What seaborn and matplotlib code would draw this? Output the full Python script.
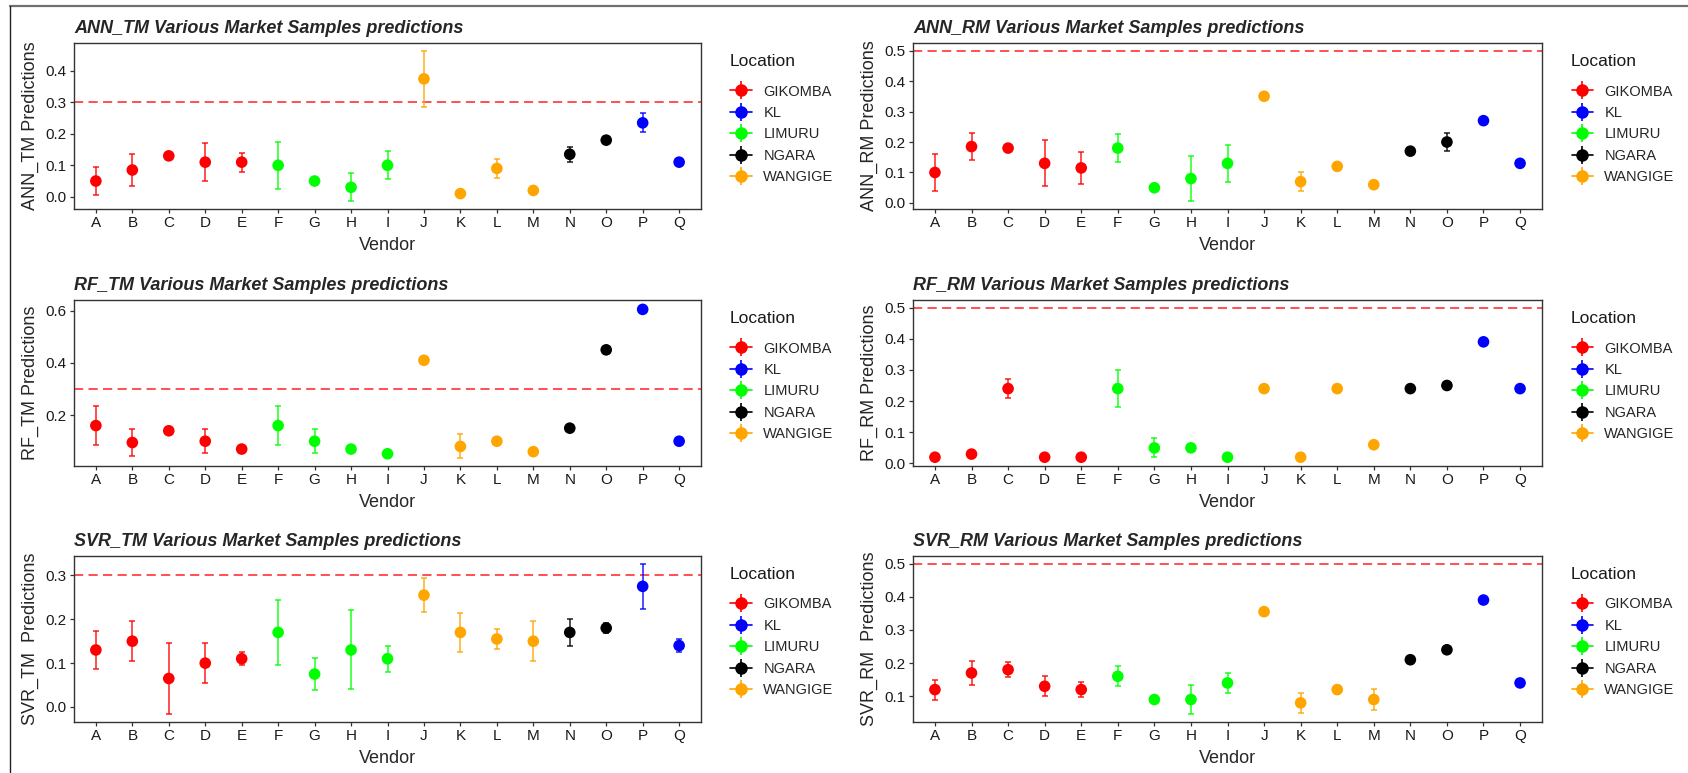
import matplotlib
matplotlib.use('Agg')
import matplotlib.pyplot as plt
from matplotlib.lines import Line2D
from matplotlib.ticker import MultipleLocator, FormatStrFormatter
import seaborn as sns
import numpy as np
import pandas as pd

vendors = list('ABCDEFGHIJKLMNOPQ')
locations = ['GIKOMBA'] * 5 + ['LIMURU'] * 4 + ['WANGIGE'] * 4 + ['NGARA'] * 2 + ['KL'] * 2
location_order = ['GIKOMBA', 'KL', 'LIMURU', 'NGARA', 'WANGIGE']
palette = {'GIKOMBA': '#FF0000', 'KL': '#0000FF', 'LIMURU': '#00FF00',
           'NGARA': '#000000', 'WANGIGE': '#FFA500'}

# mean prediction and half width of the error bar, per vendor A..Q
ann_tm_mean = [0.05, 0.085, 0.13, 0.11, 0.11, 0.10, 0.05, 0.03, 0.10, 0.375, 0.01, 0.09, 0.02, 0.135, 0.18, 0.235, 0.11]
ann_tm_err = [0.045, 0.052, 0.008, 0.06, 0.03, 0.075, 0.006, 0.045, 0.045, 0.09, 0.004, 0.03, 0.01, 0.024, 0.012, 0.03, 0.012]

ann_rm_mean = [0.10, 0.185, 0.18, 0.13, 0.115, 0.18, 0.05, 0.08, 0.13, 0.35, 0.07, 0.12, 0.06, 0.17, 0.20, 0.27, 0.13]
ann_rm_err = [0.06, 0.045, 0.008, 0.075, 0.053, 0.045, 0.006, 0.075, 0.06, 0.008, 0.03, 0.008, 0.008, 0.006, 0.03, 0.008, 0.006]

rf_tm_mean = [0.16, 0.095, 0.14, 0.10, 0.07, 0.16, 0.10, 0.07, 0.052, 0.41, 0.08, 0.10, 0.06, 0.15, 0.45, 0.605, 0.10]
rf_tm_err = [0.075, 0.052, 0.007, 0.045, 0.005, 0.075, 0.045, 0.005, 0.005, 0.008, 0.046, 0.006, 0.006, 0.006, 0.006, 0.007, 0.006]

rf_rm_mean = [0.02, 0.03, 0.24, 0.02, 0.02, 0.24, 0.05, 0.05, 0.02, 0.24, 0.02, 0.24, 0.06, 0.24, 0.25, 0.39, 0.24]
rf_rm_err = [0.004, 0.005, 0.03, 0.004, 0.004, 0.06, 0.03, 0.005, 0.004, 0.006, 0.004, 0.006, 0.006, 0.006, 0.006, 0.006, 0.005]

svr_tm_mean = [0.13, 0.15, 0.065, 0.10, 0.11, 0.17, 0.075, 0.13, 0.11, 0.255, 0.17, 0.155, 0.15, 0.17, 0.18, 0.275, 0.14]
svr_tm_err = [0.044, 0.045, 0.082, 0.045, 0.015, 0.075, 0.037, 0.09, 0.03, 0.038, 0.045, 0.023, 0.045, 0.03, 0.012, 0.052, 0.015]

svr_rm_mean = [0.12, 0.17, 0.18, 0.13, 0.12, 0.16, 0.09, 0.09, 0.14, 0.355, 0.08, 0.12, 0.09, 0.21, 0.24, 0.39, 0.14]
svr_rm_err = [0.03, 0.037, 0.022, 0.03, 0.022, 0.03, 0.01, 0.045, 0.03, 0.012, 0.03, 0.012, 0.031, 0.008, 0.008, 0.008, 0.008]

panels = [
    ('ANN_TM Various Market Samples predictions', 'ANN_TM Predictions', ann_tm_mean, ann_tm_err, 0.3, 0.1),
    ('ANN_RM Various Market Samples predictions', 'ANN_RM Predictions', ann_rm_mean, ann_rm_err, 0.5, 0.1),
    ('RF_TM Various Market Samples predictions', 'RF_TM Predictions', rf_tm_mean, rf_tm_err, 0.3, 0.2),
    ('RF_RM Various Market Samples predictions', 'RF_RM Predictions', rf_rm_mean, rf_rm_err, 0.5, 0.1),
    ('SVR_TM Various Market Samples predictions', 'SVR_TM  Predictions', svr_tm_mean, svr_tm_err, 0.3, 0.1),
    ('SVR_RM Various Market Samples predictions', 'SVR_RM  Predictions', svr_rm_mean, svr_rm_err, 0.5, 0.1),
]

W, H = 1688, 773
col_left = [74, 913]
col_width = [627, 629]
row_top = [43, 300, 556]
panel_h = 166

sns.set_style('ticks')
plt.rcParams['font.family'] = ['Liberation Sans', 'DejaVu Sans']

fig = plt.figure(figsize=(W / 100, H / 100), dpi=100)

for i, (title, ylab, mean, err, thr, step) in enumerate(panels):
    r, c = divmod(i, 2)
    ax = fig.add_axes([col_left[c] / W, 1 - (row_top[r] + panel_h) / H, col_width[c] / W, panel_h / H])
    df = pd.DataFrame({'Vendor': vendors, 'pos': np.arange(len(vendors)),
                       'Location': locations, 'pred': mean, 'err': err})

    for loc in location_order:
        sub = df[df.Location == loc]
        ax.errorbar(sub.pos, sub.pred, yerr=sub.err, fmt='none', ecolor=palette[loc],
                    elinewidth=1.3, capsize=2, capthick=1.3, alpha=0.75, zorder=2)
    sns.scatterplot(data=df, x='pos', y='pred', hue='Location', hue_order=location_order,
                    palette=palette, s=70, linewidth=0, legend=False, ax=ax, zorder=3)
    ax.axhline(thr, color='#FF2020', ls=(0, (6, 3.5)), lw=1.1, zorder=1)

    lo = min((df.pred - df.err).min(), thr)
    hi = max((df.pred + df.err).max(), thr)
    pad = (hi - lo) * 0.05
    ax.set_ylim(lo - pad, hi + pad)
    ax.set_xlim(-0.6, len(vendors) - 0.4)
    ax.set_xticks(df.pos)
    ax.set_xticklabels(vendors)
    ax.yaxis.set_major_locator(MultipleLocator(step))
    ax.yaxis.set_major_formatter(FormatStrFormatter('%.1f'))

    for sp in ax.spines.values():
        sp.set_visible(True)
        sp.set_color('#333333')
        sp.set_linewidth(1.0)
    ax.tick_params(length=3.2, width=0.9, color='#333333', labelsize=11,
                   labelcolor='#1a1a1a', pad=2)

    ax.set_title(title, loc='left', fontsize=13, fontweight='bold', fontstyle='italic', pad=7)
    ax.set_xlabel('Vendor', fontsize=13)
    ax.set_ylabel(ylab, fontsize=13)
    ax.xaxis.set_label_coords(0.5, -0.17)
    ax.yaxis.set_label_coords(-0.056, 0.5)

    # legend: title drawn as text so the gap to the keys matches
    ax.text(1.045, 0.886, 'Location', transform=ax.transAxes, fontsize=12.5,
            ha='left', va='center', color='#1a1a1a')
    handles = [(Line2D([], [], color=palette[loc], marker='o', markersize=8, lw=1.2),
                Line2D([], [], color=palette[loc], marker='|', markersize=13, mew=1.2, ls='none'))
               for loc in location_order]
    ax.legend(handles, location_order, loc='upper left',
              bbox_to_anchor=(1.047, 0.75), frameon=False,
              fontsize=10.5, labelspacing=0.51, handlelength=1.45,
              handletextpad=0.8, borderpad=0, borderaxespad=0)

# frame lines around the figure
fig.add_artist(Line2D([10 / W, 1], [1 - 6 / H, 1 - 6 / H], transform=fig.transFigure,
                      color='#707070', lw=1.6))
fig.add_artist(Line2D([10 / W, 10 / W], [0, 1 - 6 / H], transform=fig.transFigure,
                      color='#222222', lw=1.0))

fig.savefig('out.png', dpi=100)
